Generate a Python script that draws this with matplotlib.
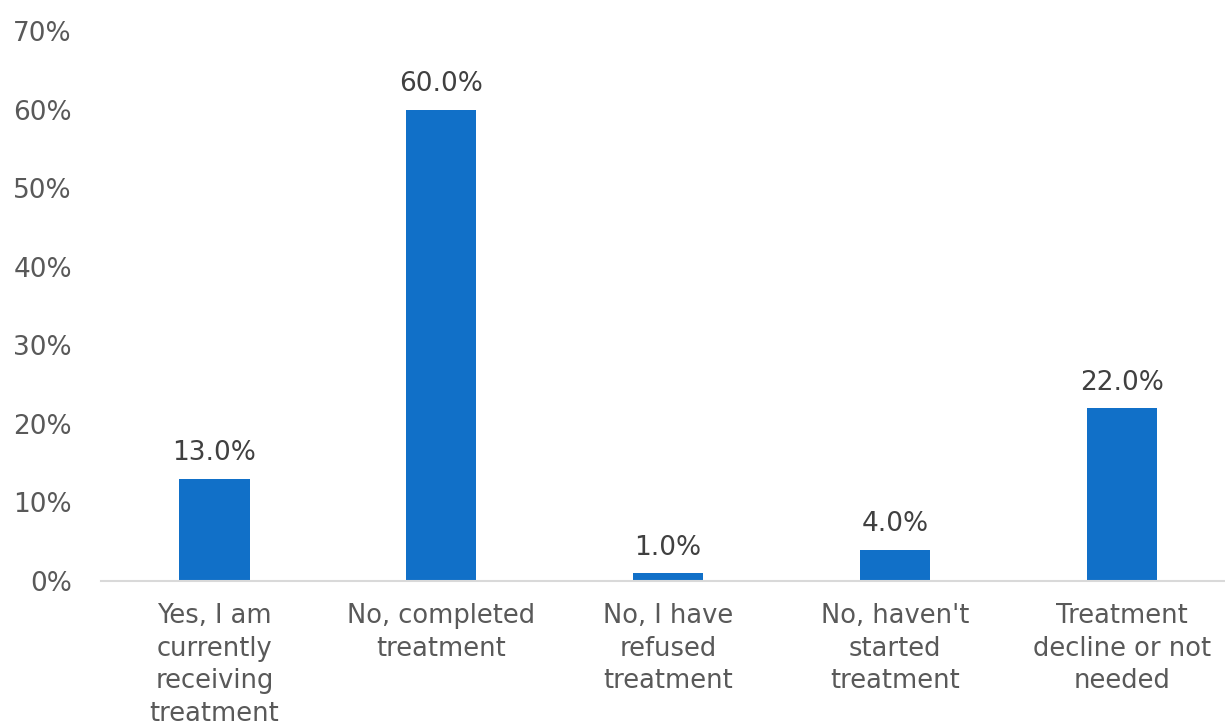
import matplotlib.pyplot as plt
from matplotlib.ticker import PercentFormatter

# response categories and share of respondents (%)
categories = [
    "Yes, I am\ncurrently\nreceiving\ntreatment",
    "No, completed\ntreatment",
    "No, I have\nrefused\ntreatment",
    "No, haven't\nstarted\ntreatment",
    "Treatment\ndecline or not\nneeded",
]
values = [13.0, 60.0, 1.0, 4.0, 22.0]
yticks = [0, 10, 20, 30, 40, 50, 60, 70]

plt.rcParams['font.family'] = ['DejaVu Sans']

fig = plt.figure(figsize=(12.25, 7.24), dpi=100)
ax = fig.add_axes([0.0825, 0.1975, 0.9175, 0.7595])

x = range(len(categories))
bars = ax.bar(x, values, width=0.31, color='#1170C8')

for rect, v in zip(bars, values):
    ax.annotate(f"{v:.1f}%", (rect.get_x() + rect.get_width() / 2, v),
                xytext=(0, 9), textcoords='offset points',
                ha='center', va='bottom', fontsize=19, color='#404040')

ax.set_xlim(-0.5, 4.455)
ax.set_ylim(0, 70)
ax.set_yticks(yticks)
ax.yaxis.set_major_formatter(PercentFormatter(decimals=0))
ax.set_xticks(list(x))
ax.set_xticklabels(categories, linespacing=1.33)

ax.tick_params(axis='y', length=0, pad=21, labelsize=19, labelcolor='#595959')
ax.tick_params(axis='x', length=0, pad=16, labelsize=18.5, labelcolor='#595959')

for s in ['top', 'right', 'left']:
    ax.spines[s].set_visible(False)
ax.spines['bottom'].set_color('#D9D9D9')
ax.spines['bottom'].set_linewidth(1.5)

fig.savefig('out.png', dpi=100)
